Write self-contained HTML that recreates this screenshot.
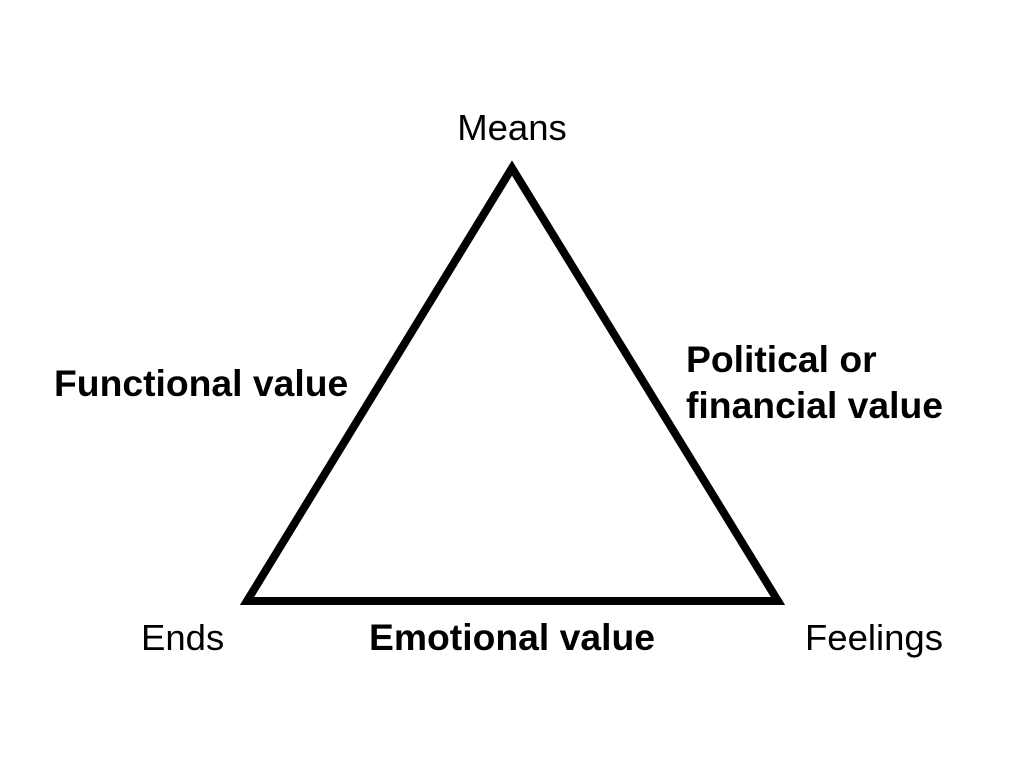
<!DOCTYPE html>
<html><head><meta charset="utf-8"><style>
html,body{margin:0;padding:0;background:#fff;}
svg{display:block;}
text{font-family:"Liberation Sans",Arial,sans-serif;font-size:36.5px;fill:#000;}
.b{font-weight:bold;font-size:37.3px;}
</style></head><body>
<svg width="1024" height="768" viewBox="0 0 1024 768">
<polygon points="512,168 247,601 778,601" fill="none" stroke="#000" stroke-width="8" stroke-linejoin="miter"/>
<text x="512" y="140" text-anchor="middle">Means</text>
<text class="b" x="54" y="396">Functional value</text>
<text class="b" x="686" y="372">Political or</text>
<text class="b" x="686" y="418">financial value</text>
<text x="141" y="650">Ends</text>
<text class="b" x="512" y="650" text-anchor="middle">Emotional value</text>
<text x="805" y="650">Feelings</text>
</svg>
</body></html>
